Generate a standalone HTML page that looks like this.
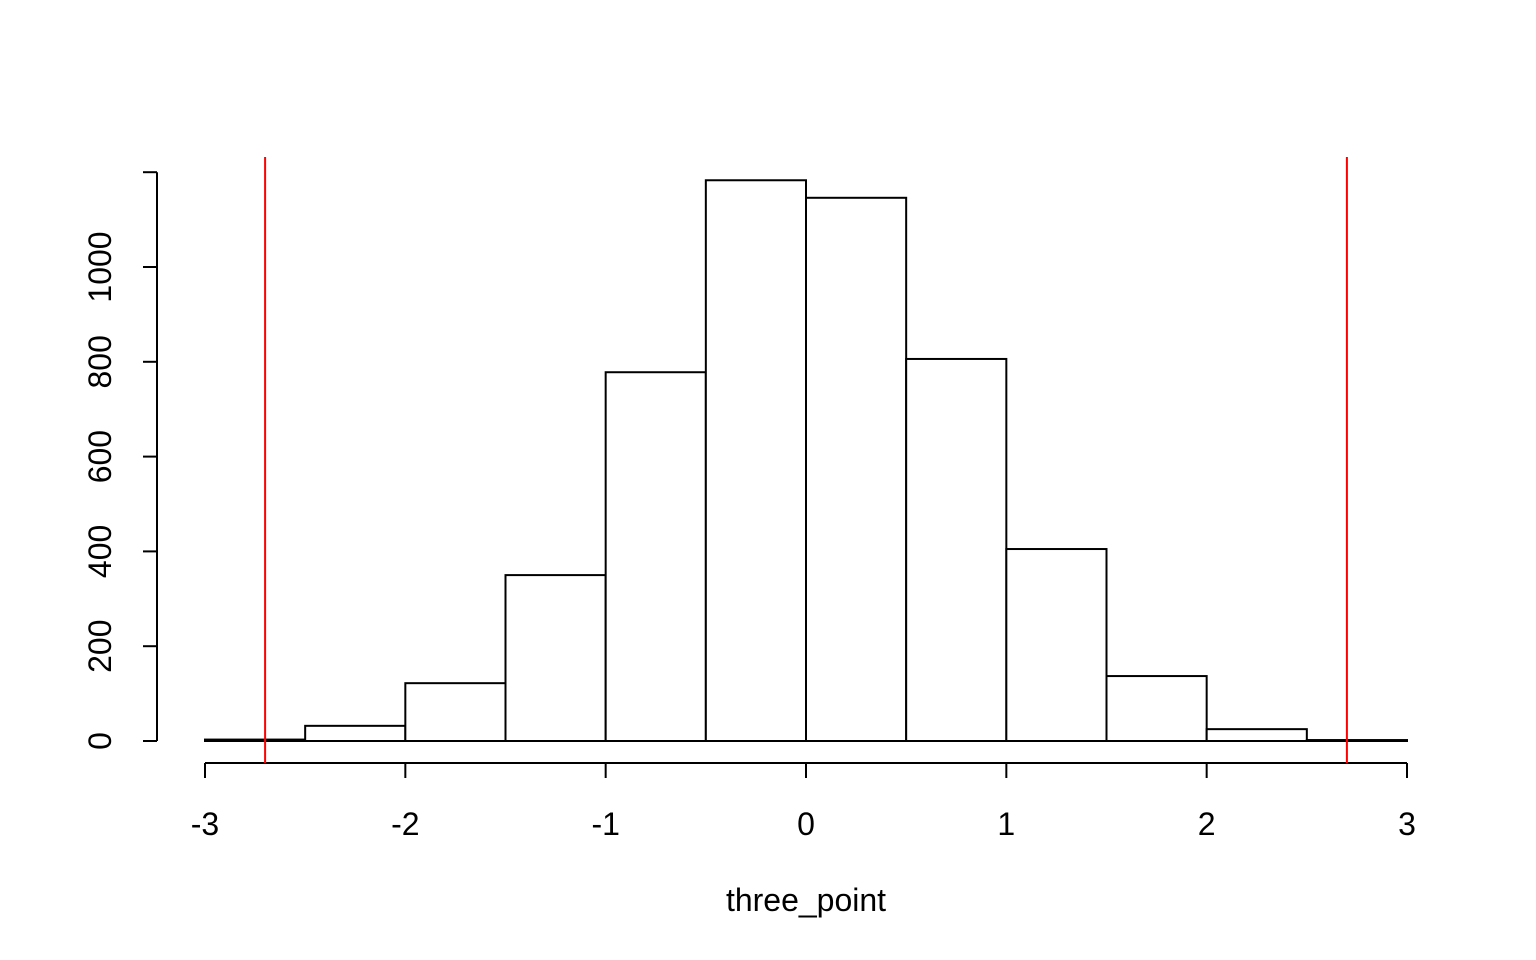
<!DOCTYPE html>
<html><head><meta charset="utf-8"><style>
html,body{margin:0;padding:0;background:#fff;}
svg{display:block;font-family:"Liberation Sans",Arial,sans-serif;}
</style></head><body>
<svg id="chart" width="1536" height="960" viewBox="0 0 1536 960"></svg>
<script>
const binEdges = [-3,-2.5,-2,-1.5,-1,-0.5,0,0.5,1,1.5,2,2.5,3];
const counts = [3,32,122,350,778,1183,1146,806,405,137,25,2];
const xTicks = [-3,-2,-1,0,1,2,3];
const yTicks = [0,200,400,600,800,1000];
const redLines = [-2.7,2.7];
const xLabel = "three_point";

const svg = document.getElementById('chart');
const NS = 'http://www.w3.org/2000/svg';
function X(v){return 205 + (v+3)*(1407-205)/6;}
function Y(v){return 741 - v*0.474;}
function mk(tag, attrs){const e=document.createElementNS(NS,tag);for(const k in attrs)e.setAttribute(k,attrs[k]);svg.appendChild(e);return e;}

for(let i=0;i<counts.length;i++){
  const r=mk('rect',{x:X(binEdges[i]),y:Y(counts[i]),width:X(binEdges[i+1])-X(binEdges[i]),height:Y(0)-Y(counts[i]),fill:'#fff',stroke:'#000','stroke-width':2});
  
  
}
const xa=mk('line',{x1:X(xTicks[0]),x2:X(xTicks[xTicks.length-1]),y1:763,y2:763,stroke:'#000','stroke-width':2});


xTicks.forEach(t=>{
  const l=mk('line',{x1:X(t),x2:X(t),y1:763,y2:778,stroke:'#000','stroke-width':2});
  
  
  const tx=mk('text',{x:X(t),y:835,'text-anchor':'middle','font-size':32});
  tx.textContent=String(t);
  
  
});
const ya=mk('line',{x1:157,x2:157,y1:Y(0),y2:Y(1200),stroke:'#000','stroke-width':2});


[...yTicks,1200].forEach(t=>{
  const l=mk('line',{x1:143,x2:157,y1:Y(t),y2:Y(t),stroke:'#000','stroke-width':2});
  
  
});
yTicks.forEach(t=>{
  const tx=mk('text',{x:111,y:Y(t),'text-anchor':'middle','font-size':32,transform:`rotate(-90 111 ${Y(t)})`});
  tx.textContent=String(t);
  
  
});
redLines.forEach(v=>{
  const l=mk('line',{x1:X(v),x2:X(v),y1:157,y2:763,stroke:'#ff0000','stroke-width':2});
  
  
});
const xt=mk('text',{x:806,y:911,'text-anchor':'middle','font-size':32});
xt.textContent=xLabel;


</script>
</body></html>
